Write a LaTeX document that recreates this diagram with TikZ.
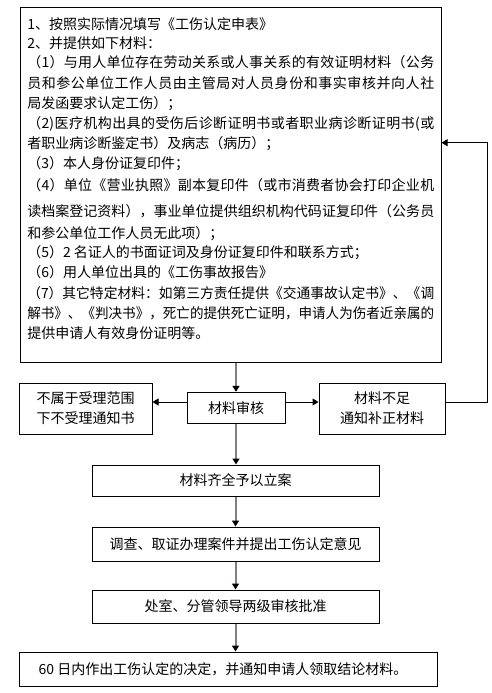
\documentclass[tikz,border=0pt]{standalone}
\usepackage{fontspec}
\usepackage{graphicx}
\setmainfont{Noto Sans CJK SC}
\usetikzlibrary{arrows.meta}
\definecolor{linegray}{RGB}{128,128,128}
% inter-character stretch for CJK so lines can be justified
\newXeTeXintercharclass\cjkcls
\newcount\mycc
\mycc="3000 \loop \XeTeXcharclass\mycc=\cjkcls \advance\mycc by 1 \ifnum\mycc<"3040 \repeat
\mycc="4E00 \loop \XeTeXcharclass\mycc=\cjkcls \advance\mycc by 1 \ifnum\mycc<"A000 \repeat
\mycc="FF00 \loop \XeTeXcharclass\mycc=\cjkcls \advance\mycc by 1 \ifnum\mycc<"FFF0 \repeat
\XeTeXinterchartoks\cjkcls\cjkcls={\hskip0pt plus 1pt\relax}
\XeTeXinterchartoks 0 \cjkcls={\hskip0pt plus 1pt\relax}
\XeTeXinterchartoks\cjkcls 0 ={\hskip0pt plus 1pt\relax}
\XeTeXinterchartokenstate=1
\newsavebox\lnbox
\newcommand\jl[1]{\sbox\lnbox{#1}\ifdim\wd\lnbox>305.25pt\resizebox{305.25pt}{\height}{\usebox\lnbox}\else\hbox to 305.25pt{#1}\fi}
\begin{document}
\begin{tikzpicture}[x=0.75pt,y=-0.75pt,
  every node/.style={font=\fontsize{10.5pt}{15pt}\selectfont},
  box/.style={draw=black,line width=0.75pt,inner sep=0pt,align=center},
  txt/.style={anchor=base west,inner sep=0pt},
  varrow/.style={draw=linegray,line width=1.5pt,-{Triangle[length=4.5pt,width=5.25pt,color=black]}},
  harrow/.style={draw=black,line width=0.75pt,-{Triangle[length=4.5pt,width=5.25pt]}}]
\useasboundingbox (0,0) rectangle (492,693);
\fill[white] (0,0) rectangle (492,693);
% top box
\node[box,minimum width=315.75pt,minimum height=266.25pt] (top) at (230.5,184.5) {};
\node[txt] (l1) at (27,29.3) {1、按照实际情况填写《工伤认定申表》};
\node[txt] (l2) at (27,48.6) {2、并提供如下材料：};
\node[txt] (l3) at (27,67) {\jl{（1）与用人单位存在劳动关系或人事关系的有效证明材料（公务}};
\node[txt] (l4) at (27,88) {\jl{员和参公单位工作人员由主管局对人员身份和事实审核并向人社}};
\node[txt] (l5) at (27,108.3) {局发函要求认定工伤）；};
\node[txt] (l6) at (27,128.3) {\jl{（2)医疗机构出具的受伤后诊断证明书或者职业病诊断证明书(或}};
\node[txt] (l7) at (27,148) {者职业病诊断鉴定书）及病志（病历）；};
\node[txt] (l8) at (27,168.6) {（3）本人身份证复印件；};
\node[txt] (l9) at (27,190.3) {\jl{（4）单位《营业执照》副本复印件（或市消费者协会打印企业机}};
\node[txt] (l10) at (27,216) {\jl{读档案登记资料），事业单位提供组织机构代码证复印件（公务员}};
\node[txt] (l11) at (27,238) {和参公单位工作人员无此项）；};
\node[txt] (l12) at (27,257) {（5）2 名证人的书面证词及身份证复印件和联系方式；};
\node[txt] (l13) at (27,277) {（6）用人单位出具的《工伤事故报告》};
\node[txt] (l14) at (27,298.6) {\jl{（7）其它特定材料：如第三方责任提供《交通事故认定书》、《调}};
\node[txt] (l15) at (27,318.6) {\jl{解书》、《判决书》，死亡的提供死亡证明，申请人为伤者近亲属的}};
\node[txt] (l16) at (27,338.6) {提供申请人有效身份证明等。};
% middle row
\node[box,minimum width=73.5pt,minimum height=23.25pt] (review) at (236,407.8) {材料审核};
\node[box,minimum width=99.75pt,minimum height=38.25pt] (reject) at (85.5,408.5) {不属于受理范围\\下不受理通知书};
\node[box,minimum width=94.5pt,minimum height=38.25pt] (supp) at (382,408.5) {材料不足\\通知补正材料};
% lower chain
\node[box,minimum width=215.25pt,minimum height=23.25pt] (accept) at (235.5,480.5) {材料齐全予以立案};
\node[box,minimum width=215.25pt,minimum height=25.5pt] (invest) at (235.5,544) {调查、取证办理案件并提出工伤认定意见};
\node[box,minimum width=215.25pt,minimum height=24.75pt] (approve) at (235.5,606.5) {处室、分管领导两级审核批准};
\node[box,minimum width=313.5pt,minimum height=25.5pt] (decide) at (228,669) {\hspace*{-7.5pt}60 日内作出工伤认定的决定，并通知申请人领取结论材料。};
% connectors
\draw[varrow] (review.north |- top.south) -- (review.north);
\draw[varrow] (review.south) -- (review.south |- accept.north);
\draw[varrow] (accept.south) -- (invest.north);
\draw[varrow] (invest.south) -- (approve.north);
\draw[varrow] (approve.south) -- (approve.south |- decide.north);
\draw[harrow] ([yshift=4.35pt]review.west) -- ([yshift=4.35pt]review.west -| reject.east);
\draw[harrow] ([yshift=4.35pt]review.east) -- ([yshift=4.35pt]review.east -| supp.west);
\coordinate (fb) at (487,142.7);
\draw[harrow] ([yshift=4.35pt]supp.east) -| (fb) -- (fb -| top.east);
\end{tikzpicture}
\end{document}
